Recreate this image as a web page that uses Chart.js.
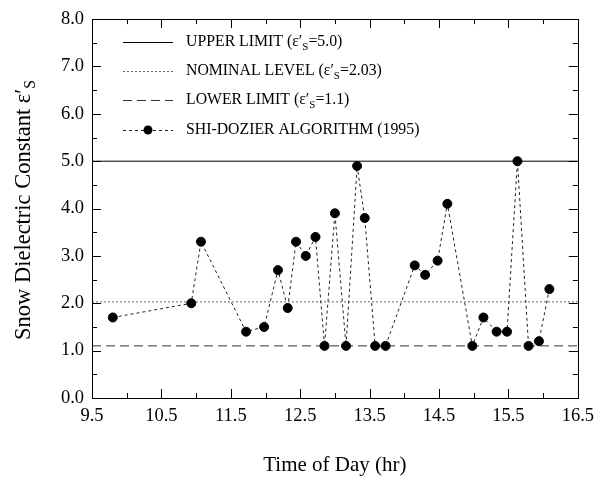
<!DOCTYPE html>
<html>
<head>
<meta charset="utf-8">
<script src="https://cdn.jsdelivr.net/npm/chart.js@4"></script>
<style>
  body { margin: 0; background: #fff; }
  canvas { display: block; }
</style>
</head>
<body>
<canvas id="chart" width="601" height="481"></canvas>
<script>
// data
const times = [9.80, 10.93, 11.07, 11.72, 11.98, 12.18, 12.32, 12.44, 12.58, 12.72, 12.85, 13.00, 13.16, 13.32, 13.43,
               13.58, 13.73, 14.15, 14.30, 14.48, 14.62, 14.98, 15.14, 15.33, 15.48, 15.63, 15.79, 15.94, 16.09];
const dielectric = [1.7, 2.0, 3.3, 1.4, 1.5, 2.7, 1.9, 3.3, 3.0, 3.4, 1.1, 3.9, 1.1, 4.9, 3.8,
                    1.1, 1.1, 2.8, 2.6, 2.9, 4.1, 1.1, 1.7, 1.4, 1.4, 5.0, 1.1, 1.2, 2.3];
const limitNames = ['UPPER LIMIT', 'NOMINAL LEVEL', 'LOWER LIMIT'];
const limitValues = [5.0, 2.03, 1.1];
const seriesName = 'SHI-DOZIER ALGORITHM (1995)';
const xTicks = [9.5, 10.5, 11.5, 12.5, 13.5, 14.5, 15.5, 16.5];
const yTicks = [0, 1, 2, 3, 4, 5, 6, 7, 8];

const SERIF = '"Liberation Serif", "DejaVu Serif", serif';
const limitDash = [[], [2, 2], [9, 5]];
const limitColor = ['#000', '#666', '#333'];

function fmtVal(v) { return Number.isInteger(v) ? v.toFixed(1) : String(v); }

// text with a subscript "S" after epsilon prime
function subParts(before, after) {
    return [[before + 'ε′', false], ['S', true], [after, false]];
}
function partsWidth(ctx, parts, size) {
    let w = 0;
    parts.forEach(([t, sub]) => {
        ctx.font = (sub ? size * 0.7 : size) + 'px ' + SERIF;
        w += ctx.measureText(t).width;
    });
    return w;
}
function drawParts(ctx, parts, x, y, size) {
    parts.forEach(([t, sub]) => {
        ctx.font = (sub ? size * 0.7 : size) + 'px ' + SERIF;
        ctx.fillText(t, x, sub ? y + size * 0.3 : y);
        x += ctx.measureText(t).width;
    });
}

const limitSets = limitNames.map((name, i) => ({
    label: name,
    data: [{x: xTicks[0], y: limitValues[i]}, {x: xTicks[xTicks.length - 1], y: limitValues[i]}],
    borderColor: limitColor[i],
    borderWidth: 1,
    borderDash: limitDash[i],
    pointRadius: 0,
    order: 2
}));

const seriesSet = {
    label: seriesName,
    data: times.map((t, i) => ({x: t, y: dielectric[i]})),
    borderColor: '#222',
    borderWidth: 1,
    borderDash: [3, 3],
    pointRadius: 4.5,
    pointBackgroundColor: '#000',
    pointBorderColor: '#000',
    order: 1
};

const frameTicks = {
    id: 'frameTicks',
    afterDatasetsDraw(chart) {
        const {ctx, chartArea: a, scales: {x, y}} = chart;
        ctx.save();
        ctx.strokeStyle = '#000';
        ctx.lineWidth = 1;
        ctx.setLineDash([]);
        ctx.strokeRect(Math.round(a.left) + 0.5, Math.round(a.top) + 0.5, Math.round(a.width), Math.round(a.height));
        ctx.beginPath();
        const xs = [];
        xTicks.forEach((v, i) => {
            xs.push([v, 9]);
            if (i < xTicks.length - 1) xs.push([v + 0.5, 5]);
        });
        xs.forEach(([v, len]) => {
            const px = Math.round(x.getPixelForValue(v)) + 0.5;
            ctx.moveTo(px, a.bottom); ctx.lineTo(px, a.bottom - len);
            ctx.moveTo(px, a.top); ctx.lineTo(px, a.top + len);
        });
        const ys = [];
        yTicks.forEach((v, i) => {
            ys.push([v, 9]);
            if (i < yTicks.length - 1) ys.push([v + 0.5, 5]);
        });
        ys.forEach(([v, len]) => {
            const py = Math.round(y.getPixelForValue(v)) + 0.5;
            ctx.moveTo(a.left, py); ctx.lineTo(a.left + len, py);
            ctx.moveTo(a.right, py); ctx.lineTo(a.right - len, py);
        });
        ctx.stroke();
        ctx.restore();
    },
    afterDraw(chart) {
        const {ctx} = chart;
        ctx.save();
        ctx.fillStyle = '#000';
        ctx.textBaseline = 'middle';
        // legend
        const lx0 = 123, lx1 = 173, tx = 186, size = 15.8;
        const rows = [42, 71, 100, 130];
        limitNames.forEach((name, i) => {
            ctx.strokeStyle = limitColor[i];
            ctx.lineWidth = 1;
            ctx.setLineDash(limitDash[i]);
            ctx.beginPath();
            ctx.moveTo(lx0, rows[i] + 0.5); ctx.lineTo(lx1, rows[i] + 0.5);
            ctx.stroke();
            ctx.textAlign = 'left';
            drawParts(ctx, subParts(name + ' (', '=' + fmtVal(limitValues[i]) + ')'), tx, rows[i], size);
        });
        ctx.strokeStyle = '#222';
        ctx.setLineDash([3, 3]);
        ctx.beginPath();
        ctx.moveTo(lx0, rows[3] + 0.5); ctx.lineTo(lx1, rows[3] + 0.5);
        ctx.stroke();
        ctx.setLineDash([]);
        ctx.beginPath();
        ctx.arc((lx0 + lx1) / 2, rows[3], 4.5, 0, Math.PI * 2);
        ctx.fill();
        ctx.font = size + 'px ' + SERIF;
        ctx.fillText(seriesName, tx, rows[3]);

        // y axis title
        const tsize = 22.5;
        const parts = subParts('Snow Dielectric Constant ', '');
        const w = partsWidth(ctx, parts, tsize);
        ctx.translate(24, 210);
        ctx.rotate(-Math.PI / 2);
        drawParts(ctx, parts, -w / 2, 0, tsize);
        ctx.restore();
    }
};

new Chart(document.getElementById('chart'), {
    type: 'line',
    data: {datasets: [seriesSet, ...limitSets]},
    options: {
        responsive: false,
        animation: false,
        layout: {padding: {top: 12, right: 18, left: 0, bottom: 0}},
        plugins: {legend: {display: false}, tooltip: {enabled: false}},
        scales: {
            x: {
                type: 'linear',
                min: xTicks[0],
                max: xTicks[xTicks.length - 1],
                afterBuildTicks: s => { s.ticks = xTicks.map(v => ({value: v})); },
                afterFit: s => { s.height = 83; },
                grid: {display: false, drawTicks: false},
                border: {display: false},
                ticks: {
                    padding: 7,
                    color: '#000',
                    font: {family: SERIF, size: 18.5},
                    callback: v => v.toFixed(1)
                },
                title: {
                    display: true,
                    text: 'Time of Day (hr)',
                    color: '#000',
                    font: {family: SERIF, size: 21},
                    padding: {top: 0, bottom: 3}
                }
            },
            y: {
                type: 'linear',
                min: yTicks[0],
                max: yTicks[yTicks.length - 1],
                afterBuildTicks: s => { s.ticks = yTicks.map(v => ({value: v})); },
                afterFit: s => { s.width = 92; },
                grid: {display: false, drawTicks: false},
                border: {display: false},
                ticks: {
                    padding: 8,
                    color: '#000',
                    font: {family: SERIF, size: 18.5},
                    callback: v => v.toFixed(1)
                }
            }
        }
    },
    plugins: [frameTicks]
});
</script>
</body>
</html>
